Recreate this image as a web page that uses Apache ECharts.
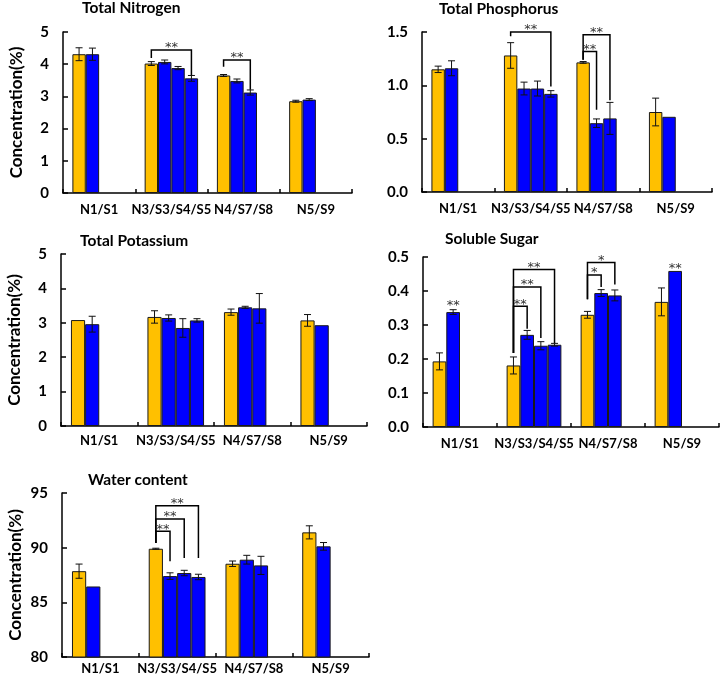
<!DOCTYPE html>
<html>
<head>
<meta charset="utf-8">
<script src="https://cdn.jsdelivr.net/npm/echarts@6/dist/echarts.min.js"></script>
<style>
html,body{margin:0;padding:0;background:#fff;}
#chart{width:723px;height:682px;}
</style>
</head>
<body>
<div id="chart"></div>
<script>
// ---------- DATA ----------
const categories = ['N1/S1', 'N3/S3/S4/S5', 'N4/S7/S8', 'N5/S9'];
const panelTitles = ['Total Nitrogen', 'Total Phosphorus', 'Total Potassium', 'Soluble Sugar', 'Water content'];
const yAxisName = 'Concentration(%)';

// means per category (first value = N sample, rest = S samples)
const nitrogenMean   = [[4.31, 4.31], [4.02, 4.07, 3.88, 3.56], [3.65, 3.48, 3.12], [2.85, 2.90]];
const nitrogenErr    = [[0.20, 0.19], [0.06, 0.06, 0.05, 0.09], [0.03, 0.06, 0.08], [0.03, 0.03]];
const phosphorusMean = [[1.15, 1.16], [1.28, 0.97, 0.97, 0.92], [1.215, 0.645, 0.69], [0.75, 0.705]];
const phosphorusErr  = [[0.03, 0.07], [0.12, 0.06, 0.07, 0.03], [0.008, 0.04, 0.15], [0.13, 0]];
const potassiumMean  = [[3.08, 2.96], [3.17, 3.14, 2.85, 3.07], [3.31, 3.45, 3.42], [3.07, 2.93]];
const potassiumErr   = [[0, 0.23], [0.18, 0.09, 0.27, 0.05], [0.09, 0.03, 0.43], [0.17, 0]];
const sugarMean      = [[0.193, 0.338], [0.181, 0.271, 0.239, 0.242], [0.33, 0.394, 0.387], [0.368, 0.459]];
const sugarErr       = [[0.025, 0.007], [0.025, 0.013, 0.012, 0.004], [0.01, 0.01, 0.016], [0.041, 0]];
const waterMean      = [[87.85, 86.45], [89.9, 87.4, 87.68, 87.32], [88.53, 88.9, 88.38], [91.4, 90.12]];
const waterErr       = [[0.65, 0], [0.05, 0.3, 0.25, 0.25], [0.25, 0.4, 0.83], [0.6, 0.35]];

// significance marks: [category, fromSlot, toSlot, bracketLevel, leftLegEnd, rightLegEnd, label]
const nitrogenSig   = [[1, 0, 3, 4.44, 4.19, 3.66, '**'], [2, 0, 2, 4.13, 3.92, 3.21, '**']];
const phosphorusSig = [[1, 0, 3, 1.50, 1.46, 0.99, '**'], [2, 0, 2, 1.475, 1.24, 0.86, '**'], [2, 0, 1, 1.318, 1.24, 0.77, '**']];
const potassiumSig  = [];
const sugarSig      = [[0, 1, 1, 0.352, null, null, '**'],
                       [1, 0, 1, 0.355, 0.218, 0.289, '**'], [1, 0, 2, 0.412, 0.218, 0.262, '**'], [1, 0, 3, 0.463, 0.218, 0.247, '**'],
                       [2, 0, 1, 0.447, 0.376, 0.412, '*'], [2, 0, 2, 0.484, 0.376, 0.419, '*'],
                       [3, 1, 1, 0.459, null, null, '**']];
const waterSig      = [[1, 0, 1, 91.5, 90.43, 88.75, '**'], [1, 0, 2, 92.62, 90.43, 89.06, '**'], [1, 0, 3, 93.84, 90.43, 89.06, '**']];

// y-axis scales
const yMins      = [0, 0, 0, 0, 80];
const yMaxs      = [5, 1.5, 5, 0.5, 95];
const yIntervals = [1, 0.5, 1, 0.1, 5];
const yDigits    = [0, 1, 0, 1, 0];

// ---------- LAYOUT / STYLE ----------
const FONT = 'Lato, "Open Sans", sans-serif';
const STAR_FONT = '"DejaVu Sans", sans-serif';
const YELLOW = '#FFC000';
const BLUE = '#0000FF';
const GAP = 0.26;
const grids = [
  {left: 63, top: 32, width: 289, height: 161},
  {left: 422, top: 32, width: 290, height: 160},
  {left: 61, top: 254, width: 306, height: 172},
  {left: 423, top: 257, width: 296, height: 170},
  {left: 62, top: 493, width: 307, height: 164}
];
const titlePos = [[82, 0], [439, 1], [80, 233], [445, 231], [88, 472]];
const xLabelMargin = [10, 10, 8, 10, 5];
const showYName = [true, false, true, false, true];

const means = [nitrogenMean, phosphorusMean, potassiumMean, sugarMean, waterMean];
const errs  = [nitrogenErr, phosphorusErr, potassiumErr, sugarErr, waterErr];
const sigs  = [nitrogenSig, phosphorusSig, potassiumSig, sugarSig, waterSig];

const option = {
  animation: false,
  backgroundColor: '#fff',
  title: [], grid: [], xAxis: [], yAxis: [], series: []
};

panelTitles.forEach((t, p) => {
  option.title.push({
    text: t, left: titlePos[p][0], top: titlePos[p][1], padding: 0,
    textStyle: {fontFamily: FONT, fontSize: 15.5, fontWeight: 'bold', color: '#000'}
  });
  option.grid.push(Object.assign({containLabel: false}, grids[p]));
  option.xAxis.push({
    type: 'category', gridIndex: p, data: categories, boundaryGap: true,
    axisLine: {lineStyle: {color: '#000', width: 1.5}},
    axisTick: {show: true, inside: true, length: 4, lineStyle: {color: '#000', width: 1.5}},
    axisLabel: {fontFamily: FONT, fontSize: 13, fontWeight: 'bold', color: '#000', margin: xLabelMargin[p], interval: 0},
    splitLine: {show: false}
  });
  option.yAxis.push({
    type: 'value', gridIndex: p, min: yMins[p], max: yMaxs[p], interval: yIntervals[p],
    name: showYName[p] ? yAxisName : '', nameLocation: 'middle', nameGap: 38,
    nameTextStyle: {fontFamily: FONT, fontSize: 17, fontWeight: 'bold', color: '#000'},
    axisLine: {show: true, lineStyle: {color: '#000', width: 1.5}},
    axisTick: {show: true, inside: true, length: 5, lineStyle: {color: '#000', width: 1.5}},
    axisLabel: {fontFamily: FONT, fontSize: 15, fontWeight: 'bold', color: '#000', margin: 14,
      formatter: v => v.toFixed(yDigits[p])},
    splitLine: {show: false}
  });

  const mean = means[p], err = errs[p];
  for (let s = 0; s < 4; s++) {
    option.series.push({
      type: 'bar', xAxisIndex: p, yAxisIndex: p,
      barGap: '0%', barCategoryGap: (GAP * 100) + '%',
      data: categories.map((c, ci) => mean[ci][s] !== undefined ? mean[ci][s] : '-'),
      itemStyle: {color: s === 0 ? YELLOW : BLUE, borderColor: '#1a1a1a', borderWidth: 1},
      z: 2
    });
  }

  // error bars
  const errData = [];
  categories.forEach((c, ci) => {
    mean[ci].forEach((m, s) => { if (err[ci][s] > 0) errData.push([ci, m, s, err[ci][s]]); });
  });
  option.series.push({
    type: 'custom', xAxisIndex: p, yAxisIndex: p, z: 5, clip: false,
    encode: {x: 0, y: 1},
    data: errData,
    renderItem: function (params, api) {
      const ci = api.value(0), v = api.value(1), s = api.value(2), e = api.value(3);
      const bw = api.size([1, 0])[0] * (1 - GAP) / 4;
      const c = api.coord([ci, v]);
      const x = c[0] + (s - 1.5) * bw;
      const yt = api.coord([ci, v + e])[1];
      const yb = api.coord([ci, v - e])[1];
      const st = {stroke: '#111', lineWidth: 1};
      const cap = 3.5;
      return {type: 'group', children: [
        {type: 'line', shape: {x1: x, y1: yt, x2: x, y2: yb}, style: st},
        {type: 'line', shape: {x1: x - cap, y1: yt, x2: x + cap, y2: yt}, style: st},
        {type: 'line', shape: {x1: x - cap, y1: yb, x2: x + cap, y2: yb}, style: st}
      ]};
    }
  });

  // significance brackets and stars
  const sig = sigs[p];
  if (sig.length) {
    option.series.push({
      type: 'custom', xAxisIndex: p, yAxisIndex: p, z: 6, clip: false,
      encode: {x: 0, y: 3},
      data: sig.map(b => [b[0], b[1], b[2], b[3]]),
      renderItem: function (params, api) {
        const b = sig[params.dataIndex];
        const ci = b[0];
        const bw = api.size([1, 0])[0] * (1 - GAP) / 4;
        const cx = api.coord([ci, b[3]]);
        const x1 = cx[0] + (b[1] - 1.5) * bw;
        const x2 = cx[0] + (b[2] - 1.5) * bw;
        const yl = cx[1];
        const children = [];
        if (b[1] !== b[2]) {
          const yL = api.coord([ci, b[4]])[1];
          const yR = api.coord([ci, b[5]])[1];
          children.push({type: 'polyline', shape: {points: [[x1, yL], [x1, yl], [x2, yl], [x2, yR]]},
            style: {stroke: '#000', lineWidth: 1.5, fill: null}});
        }
        children.push({type: 'text', style: {
          text: b[6], x: (x1 + x2) / 2, y: yl - 2, align: 'center', verticalAlign: 'middle',
          font: '13px ' + STAR_FONT, fill: '#333'
        }});
        return {type: 'group', children: children};
      }
    });
  }
});

const chart = echarts.init(document.getElementById('chart'), null, {renderer: 'canvas'});
chart.setOption(option);
</script>
</body>
</html>
